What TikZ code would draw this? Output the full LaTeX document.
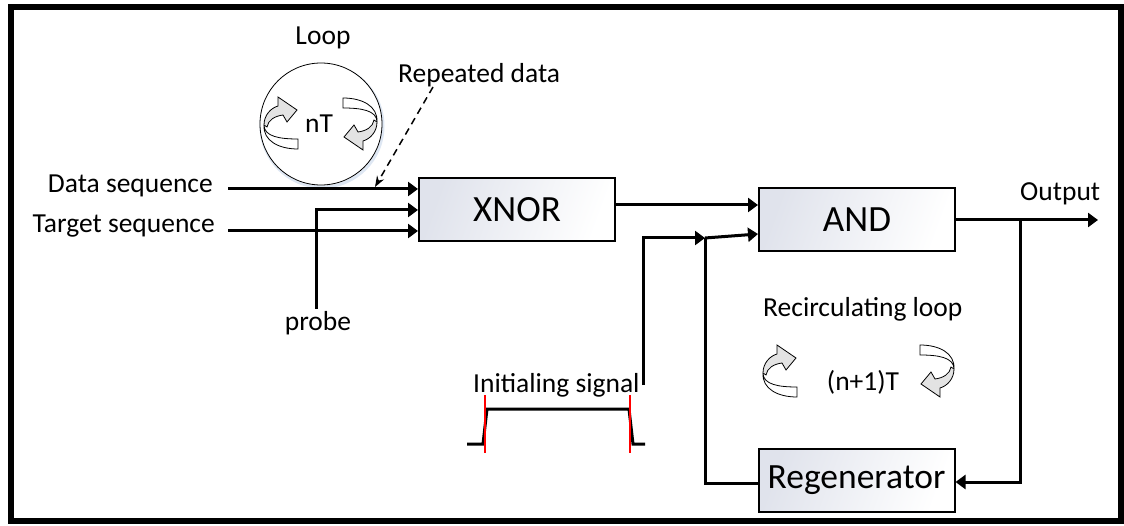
\documentclass[tikz,border=0pt]{standalone}
\usepackage{fontspec}
\setmainfont{Carlito}
\usetikzlibrary{arrows.meta,calc}
\definecolor{boxtint}{RGB}{224,227,236}
\definecolor{glow}{RGB}{200,215,235}
\tikzset{
  lbl/.style={font=\fontsize{27.5}{32}\selectfont, inner sep=0pt},
  gate/.style={draw, line width=2pt, inner sep=0pt, minimum width=196pt, minimum height=63pt,
    left color=boxtint, right color=white, shading angle=70,
    font=\fontsize{37}{42}\selectfont},
  wire/.style={line width=3pt},
  feed/.style={wire, -{Triangle[length=10pt,width=14pt]}},
  cyc/.pic={
    % lower (front) ribbon of the circular arrow
    \filldraw[fill=white, line width=0.8pt]
      (-17,2) .. controls (-17,14) and (0,16) .. (17,16) -- (17,26)
      .. controls (-2,26) and (-18,18) .. (-17,2) -- cycle;
    % upper band ending in the arrowhead
    \filldraw[fill=gray!22, line width=0.8pt]
      (-17,2) .. controls (-17,-8) and (-10,-15) .. (-3,-17) -- (-3,-26) -- (16,-13)
      -- (6,-1) -- (2,-8) .. controls (-6,-7) and (-13,-3) .. (-14,4) -- cycle;
  }
}
\begin{document}
\begin{tikzpicture}[x=1pt,y=-1pt]
\useasboundingbox (0,0) rectangle (1124,526);
\draw[line width=6pt] (11,7) rectangle (1121,521);

% gates
\node[gate] (xnor) at (517,210) {XNOR};
\node[gate] (and) at (857,219.5) {AND};
\node[gate, font=\fontsize{35.5}{40}\selectfont] (regen) at (856.5,480.5) {Regenerator};

% loop of repeated data
\draw[glow, line width=3pt, opacity=0.6] (322,126) circle (61);
\node[draw, circle, line width=0.8pt, minimum size=122pt, inner sep=0pt, fill=white] (loop) at (321,124) {};
\pic at (281,123) {cyc};
\pic[rotate=180] at (360,124) {cyc};
\node[lbl, anchor=base] (nt) at (319,133) {nT};
\node[lbl, anchor=base] (looplbl) at (323,45) {Loop};
\node[lbl, anchor=base west] (rep) at (398,83) {Repeated data};

% inputs of the XNOR gate
\node[lbl, anchor=base east] (data) at (213,193) {Data sequence};
\node[lbl, anchor=base east] (target) at (215,233) {Target sequence};
\node[lbl, anchor=base] (probe) at (318,331) {probe};
\coordinate (dataS) at (228,189);
\coordinate (targetS) at (228,231);
\coordinate (probeS) at (316,309);
\coordinate (probeK) at (316,210);
\coordinate (repS) at (433,87);
\coordinate (repE) at (375,187);
\draw[feed] (dataS) -- (dataS -| xnor.west);
\draw[feed] (targetS) -- (targetS -| xnor.west);
\draw[feed] (probeS) -- (probeK) -- (probeK -| xnor.west);
\draw[line width=1.5pt, dash pattern=on 7pt off 5pt, -{Stealth[length=11pt,width=8pt]}] (repS) -- (repE);

% XNOR to AND
\coordinate (xo) at (616,205);
\draw[feed] (xo) -- (xo -| and.west);

% initialising signal
\node[lbl, anchor=base west] (init) at (473,392) {Initialing signal};
\coordinate (initS) at (643,385);
\coordinate (initK) at (643,238);
\coordinate (join) at (705,238);
\coordinate (andIn) at (758,234);
\draw[feed] (initS) -- (initK) -- (join);
\draw[feed] (join) -- (andIn);
\draw[line width=3pt] (467,444) -- (483,444) -- (487,409) -- (629,409) -- (633,444) -- (645,444);
\draw[red, line width=1.5pt] (485,395) -- (485,453) (630,395) -- (630,453);

% output and recirculation
\coordinate (ao) at (956,220);
\coordinate (tap) at (1020,220);
\coordinate (outE) at (1098,220);
\coordinate (tapB) at (1020,482);
\coordinate (retB) at (705,483);
\draw[feed] (ao) -- (outE);
\node[lbl, anchor=base west] (outlbl) at (1020,201) {Output};
\draw[feed] (tap) -- (tapB) -- (tapB -| regen.east);
\draw[wire] (regen.west |- retB) -- (retB) -- (join);

% recirculating loop
\node[lbl, anchor=base west] (rec) at (763,317) {Recirculating loop};
\pic at (780,371) {cyc};
\pic[rotate=180] at (937,371) {cyc};
\node[lbl, anchor=base] (n1t) at (863,390) {(n+1)T};
\end{tikzpicture}
\end{document}
